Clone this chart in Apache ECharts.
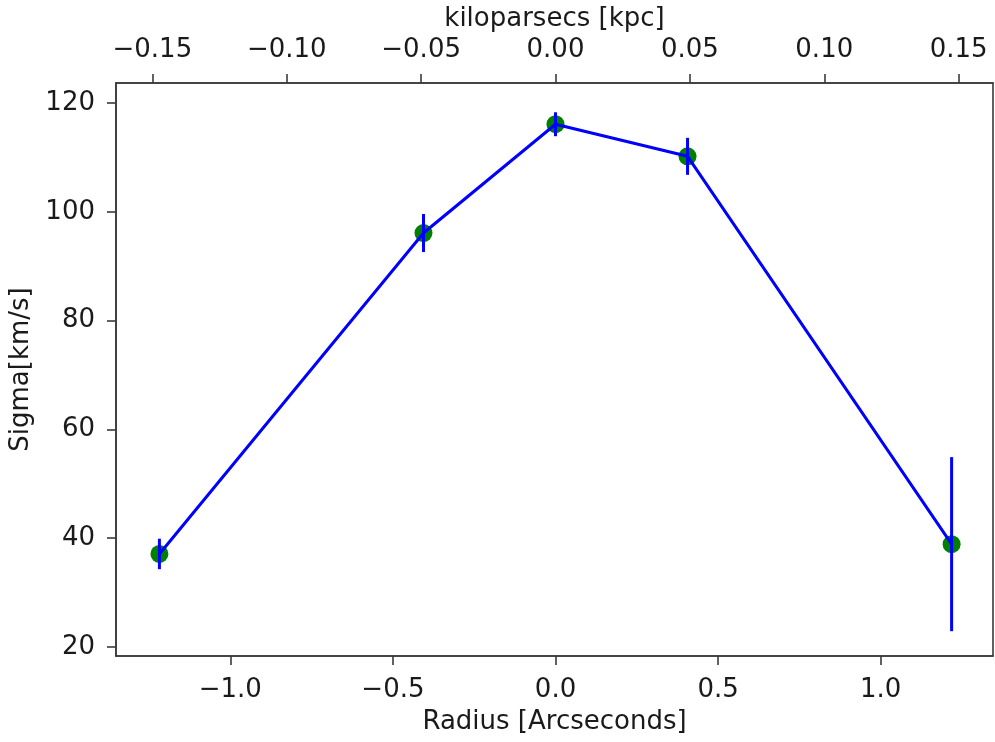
<!DOCTYPE html>
<html>
<head>
<meta charset="utf-8">
<script src="https://cdn.jsdelivr.net/npm/echarts@6.0.0/dist/echarts.min.js"></script>
<style>
html,body{margin:0;padding:0;background:#fff;}
#chart{width:995px;height:742px;}
</style>
</head>
<body>
<div id="chart"></div>
<script>
// Data
const radius = [-1.218, -0.406, 0.0, 0.406, 1.218];      // arcseconds
const sigma = [37.1, 96.1, 116.1, 110.2, 38.9];          // km/s
const sigmaErr = [2.8, 3.5, 2.2, 3.4, 16.0];             // km/s
const xTicks = [-1.0, -0.5, 0.0, 0.5, 1.0];
const kpcTicks = [-0.15, -0.10, -0.05, 0.00, 0.05, 0.10, 0.15];
const yTicks = [20, 40, 60, 80, 100, 120];
const KPC_PER_ARCSEC = 0.121;

const kpcPositions = kpcTicks.map(k => k / KPC_PER_ARCSEC);

function mfmt(v, d) {
  const s = Math.abs(v).toFixed(d);
  return (v < -1e-9 ? '\u2212' : '') + s;
}

const FONT = 'DejaVu Sans';
const TXT = '#1a1a1a';
const AX = '#3a3a3a';
const FS = 26;

const chart = echarts.init(document.getElementById('chart'), null, {renderer: 'canvas'});

const axisCommon = {
  axisLine: {show: true, onZero: false, lineStyle: {color: AX, width: 1.6}},
  axisTick: {show: true, length: 9, lineStyle: {color: AX, width: 1.6}},
  splitLine: {show: false},
  nameTextStyle: {fontFamily: FONT, fontSize: FS, color: TXT},
};

chart.setOption({
  animation: false,
  backgroundColor: '#fff',
  grid: {left: 116, right: 2, top: 83, bottom: 86, show: true, borderColor: AX, borderWidth: 1.6, containLabel: false},
  xAxis: [
    Object.assign({}, axisCommon, {
      type: 'value', position: 'bottom', min: -1.3515, max: 1.3453,
      name: 'Radius [Arcseconds]', nameLocation: 'middle', nameGap: 53,
      axisTick: Object.assign({}, axisCommon.axisTick, {customValues: xTicks}),
      axisLabel: {customValues: xTicks, margin: 21, fontFamily: FONT, fontSize: FS, color: TXT,
        formatter: v => mfmt(v, 1)}
    }),
    Object.assign({}, axisCommon, {
      type: 'value', position: 'top', min: -1.3515, max: 1.3453,
      name: 'kiloparsecs [kpc]', nameLocation: 'middle', nameGap: 50,
      axisTick: Object.assign({}, axisCommon.axisTick, {customValues: kpcPositions}),
      axisLabel: {customValues: kpcPositions, margin: 20, fontFamily: FONT, fontSize: FS, color: TXT,
        formatter: v => {
          let best = 0;
          kpcPositions.forEach((p, i) => { if (Math.abs(p - v) < Math.abs(kpcPositions[best] - v)) best = i; });
          return mfmt(kpcTicks[best], 2);
        }}
    })
  ],
  yAxis: [
    Object.assign({}, axisCommon, {
      type: 'value', position: 'left', min: 18.34, max: 123.68,
      name: 'Sigma[km/s]', nameLocation: 'middle', nameGap: 73, nameRotate: 90,
      axisTick: Object.assign({}, axisCommon.axisTick, {customValues: yTicks}),
      axisLabel: {customValues: yTicks, margin: 21, fontFamily: FONT, fontSize: FS, color: TXT,
        formatter: v => String(Math.round(v))}
    })
  ],
  series: [
    {
      type: 'scatter', xAxisIndex: 0, yAxisIndex: 0, z: 2,
      symbol: 'circle', symbolSize: 18,
      itemStyle: {color: '#008000', opacity: 1},
      data: radius.map((r, i) => [r, sigma[i]])
    },
    {
      type: 'line', xAxisIndex: 0, yAxisIndex: 0, z: 3,
      showSymbol: false, symbol: 'none',
      lineStyle: {color: '#0000ff', width: 3},
      data: radius.map((r, i) => [r, sigma[i]])
    },
    {
      type: 'custom', xAxisIndex: 0, yAxisIndex: 0, z: 4,
      encode: {x: 0, y: 1},
      data: radius.map((r, i) => [r, sigma[i], sigmaErr[i]]),
      renderItem: (params, api) => {
        const x = api.value(0), y = api.value(1), e = api.value(2);
        const p1 = api.coord([x, y - e]);
        const p2 = api.coord([x, y + e]);
        return {type: 'line', shape: {x1: p1[0], y1: p1[1], x2: p2[0], y2: p2[1]},
          style: {stroke: '#0000ff', lineWidth: 3}};
      }
    }
  ]
});
</script>
</body>
</html>
